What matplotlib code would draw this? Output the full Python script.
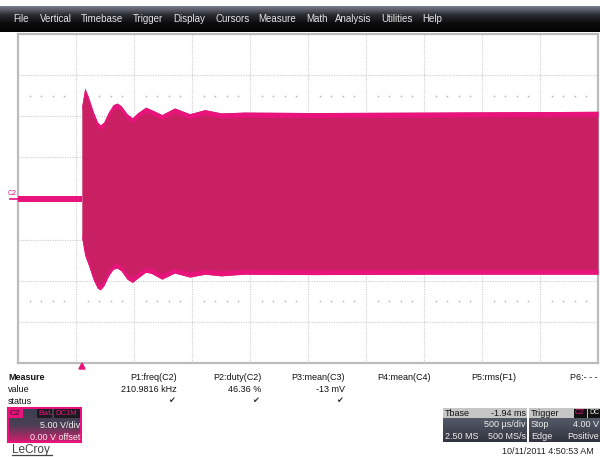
import numpy as np
import matplotlib.pyplot as plt
from matplotlib.patches import Rectangle, Polygon
from matplotlib.lines import Line2D
from matplotlib.colors import LinearSegmentedColormap

plt.rcParams['font.family'] = ['Liberation Sans', 'DejaVu Sans']

# --- acquisition (C2, 5 V/div, 500 us/div, time in ms from trigger) ---
volts_per_div = 5.0
ms_per_div = 0.5
t_start = -0.55

t_idle = [-0.55, 0.0]
idle_hi = [0.35, 0.35]
idle_lo = [-0.45, -0.45]

t_env = [0.000, 0.026, 0.060, 0.100, 0.135, 0.160, 0.190, 0.230, 0.270, 0.305,
         0.340, 0.390, 0.435, 0.480, 0.550, 0.600, 0.690, 0.800, 0.930, 1.060,
         1.200, 1.400, 2.000, 3.000, 4.450]
env_hi = [11.25, 13.44, 12.2, 10.5, 9.3, 8.94, 9.3, 10.5, 11.4, 11.6,
          11.25, 10.3, 9.8, 10.4, 11.1, 10.8, 10.2, 11.0, 10.3, 10.8,
          10.4, 10.5, 10.45, 10.5, 10.6]
env_lo = [-4.8, -6.9, -8.2, -9.9, -10.9, -11.1, -10.6, -9.4, -8.6, -8.45,
          -8.8, -9.8, -10.2, -9.7, -8.95, -9.1, -9.8, -9.05, -9.55, -9.2,
          -9.4, -9.2, -9.25, -9.2, -9.2]

menu_items = ['File', 'Vertical', 'Timebase', 'Trigger', 'Display', 'Cursors',
              'Measure', 'Math', 'Analysis', 'Utilities', 'Help']
menu_x = [13, 40, 81, 133, 173, 215, 258, 306, 335, 381, 422]

measure_names = ['P1:freq(C2)', 'P2:duty(C2)', 'P3:mean(C3)', 'P4:mean(C4)',
                 'P5:rms(F1)', 'P6:- - -']
measure_values = ['210.9816 kHz', '46.36 %', '-13 mV', '', '', '']
measure_status = [True, True, True, False, False, False]
measure_right = [177, 261, 345, 431, 516, 598]

pink = '#e8147c'
fill_pink = '#c91f63'
W, H = 600, 457


def fx(x):
    return x / W


def fy(y):
    return 1 - y / H


def txt(x, y, s, size=6.5, color='#111111', ha='left', **kw):
    fig.text(fx(x), fy(y), s, fontsize=size, color=color, ha=ha, va='center', **kw)


def box(x0, y0, x1, y1, color, ec='none', lw=0):
    fig.add_artist(Rectangle((fx(x0), fy(y1)), (x1 - x0) / W, (y1 - y0) / H,
                             transform=fig.transFigure, facecolor=color,
                             edgecolor=ec, linewidth=lw))


def gradient_box(x0, y0, x1, y1, colors):
    a = fig.add_axes([fx(x0), fy(y1), (x1 - x0) / W, (y1 - y0) / H])
    cm = LinearSegmentedColormap.from_list('g', colors)
    a.imshow(np.linspace(0, 1, 64).reshape(-1, 1), aspect='auto', cmap=cm,
             extent=[0, 1, 0, 1])
    a.axis('off')
    return a


fig = plt.figure(figsize=(6, 4.57), dpi=100)
fig.patch.set_facecolor('white')

# menu bar
gradient_box(0, 6, 600, 32, ['#7a7f8e', '#2a2c33', '#0c0c0d', '#050505'])
for name, x in zip(menu_items, menu_x):
    txt(x, 19, name, size=7, color='#e4e4e4')

# scope grid
ax = fig.add_axes([fx(18), fy(363), 580 / W, 329 / H])
ax.set_xlim(t_start, t_start + 10 * ms_per_div)
ax.set_ylim(-4 * volts_per_div, 4 * volts_per_div)
ax.set_xticks([])
ax.set_yticks([])
for s in ax.spines.values():
    s.set_color('#bcbcbc')
    s.set_linewidth(1.6)

grid_kw = dict(color='#cccccc', lw=0.8, ls=(0, (1, 1.2)), zorder=1)
for k in range(1, 10):
    ax.axvline(t_start + k * ms_per_div, **grid_kw)
for k in range(-3, 4):
    ax.axhline(k * volts_per_div, **grid_kw)

minor_t = [t_start + i * ms_per_div / 5 for i in range(50) if i % 5]
for yv in (2.5 * volts_per_div, -2.5 * volts_per_div):
    ax.plot(minor_t, [yv] * len(minor_t), ls='none', marker='s', ms=1.1,
            mew=0, color='#b4b4b4', zorder=1)

# C2 trace
hi = np.array(env_hi)
lo = np.array(env_lo)
ax.fill_between(t_idle, idle_hi, idle_lo, color=pink, lw=0, zorder=3)
ax.fill_between(t_env, hi, lo, color=fill_pink, lw=0, zorder=3)
ax.fill_between(t_env, hi, hi - 0.6, color=pink, lw=0, zorder=4)
ax.fill_between(t_env, lo + 0.6, lo, color=pink, lw=0, zorder=4)

# channel marker and trigger marker
txt(8, 193, 'C2', size=5, color=pink)
fig.add_artist(Line2D([fx(10), fx(18)], [fy(199), fy(199)], color=pink, lw=1.2))
fig.add_artist(Polygon([(fx(79), fy(369)), (fx(85), fy(369)), (fx(82), fy(363))],
                       closed=True, transform=fig.transFigure, color=pink))

# measurement table
txt(8, 377, 'Measure', weight='bold')
txt(8, 389, 'value')
txt(8, 401, 'status')
for name, val, ok, xr in zip(measure_names, measure_values, measure_status, measure_right):
    txt(xr, 377, name, ha='right')
    if val:
        txt(xr, 389, val, ha='right')
    if ok:
        txt(xr - 2, 401, '\u2714', size=6, ha='right', color='#333333')

# C2 channel descriptor
box(8, 408, 81, 442, 'none', ec=pink, lw=1.5)
gradient_box(9, 409, 80, 441, ['#3c4150', '#4a3f55', '#c8206a'])
box(9, 409, 23, 418, pink)
txt(10, 413.5, 'C2', size=6, color='#3a0a20')
box(37, 409, 52, 418, '#1a1a1f')
txt(38, 413.5, 'BwL', size=5.5, color=pink)
box(54, 409, 80, 418, '#1a1a1f')
txt(55, 413.5, 'DC1M', size=5.5, color=pink)
txt(80, 425, '5.00 V/div', color='#f0f0f0', ha='right')
txt(80, 437, '0.00 V offset', color='#f0f0f0', ha='right')

# timebase descriptor
box(443, 408, 527, 418, '#c6c6c6')
gradient_box(443, 418, 527, 442, ['#555a68', '#30343e'])
txt(445, 413, 'Tbase', color='#111111')
txt(526, 413, '-1.94 ms', ha='right', color='#111111')
txt(526, 424.5, '500 \u00b5s/div', ha='right', color='#eeeeee')
txt(445, 436.5, '2.50 MS', color='#eeeeee')
txt(526, 436.5, '500 MS/s', ha='right', color='#eeeeee')

# trigger descriptor
box(529, 408, 600, 418, '#c6c6c6')
gradient_box(529, 418, 600, 442, ['#555a68', '#30343e'])
txt(531, 413, 'Trigger', color='#111111')
box(574, 409, 587, 417.5, '#111111')
txt(575, 413, 'C2', size=5.5, color=pink)
box(588, 409, 600, 417.5, '#111111')
txt(589, 413, 'DC', size=5, color='#eeeeee')
txt(531, 424.5, 'Stop', color='#eeeeee')
txt(599, 424.5, '4.00 V', ha='right', color='#eeeeee')
txt(531, 436.5, 'Edge', color='#eeeeee')
txt(599, 436.5, 'Positive', ha='right', color='#eeeeee')

# footer
txt(12, 449.5, 'LeCroy', size=8.5, color='#444444')
fig.add_artist(Line2D([fx(12), fx(52)], [fy(455), fy(455)], color='#444444', lw=0.9))
txt(594, 451, '10/11/2011 4:50:53 AM', ha='right', color='#222222')

fig.savefig('out.png', dpi=100)
